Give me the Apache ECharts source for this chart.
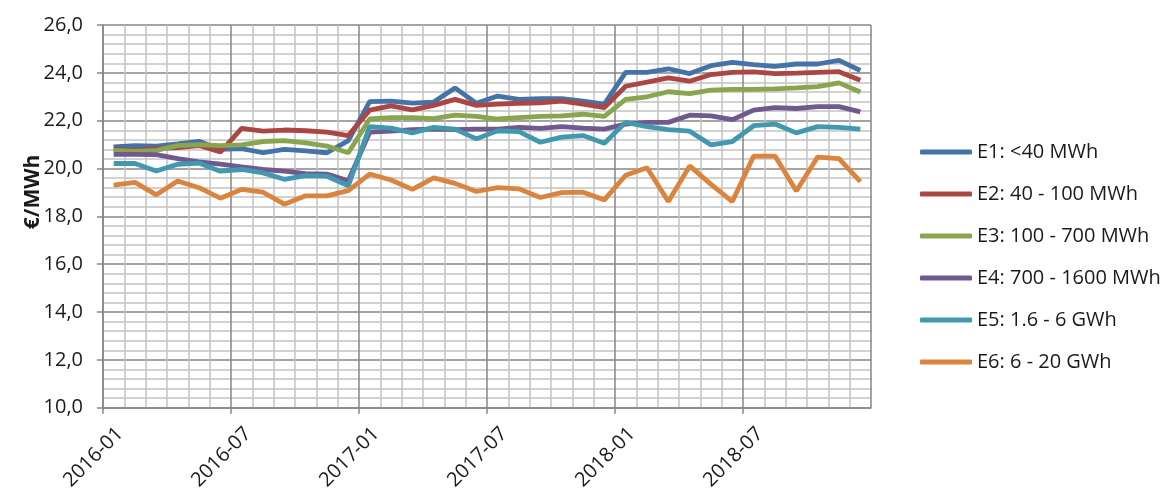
<!DOCTYPE html>
<html>
<head>
<meta charset="utf-8">
<script src="https://cdn.jsdelivr.net/npm/echarts@6/dist/echarts.min.js"></script>
<style>html,body{margin:0;padding:0;background:#fff;}#c{width:1160px;height:493px;}</style>
</head>
<body>
<div id="c"></div>
<script>
const months = ['2016-01','2016-02','2016-03','2016-04','2016-05','2016-06','2016-07','2016-08','2016-09','2016-10','2016-11','2016-12',
'2017-01','2017-02','2017-03','2017-04','2017-05','2017-06','2017-07','2017-08','2017-09','2017-10','2017-11','2017-12',
'2018-01','2018-02','2018-03','2018-04','2018-05','2018-06','2018-07','2018-08','2018-09','2018-10','2018-11','2018-12'];
const xTickLabels = ['2016-01','2016-07','2017-01','2017-07','2018-01','2018-07'];
const seriesNames = ['E1: <40 MWh','E2: 40 - 100 MWh','E3: 100 - 700 MWh','E4: 700 - 1600 MWh','E5: 1.6 - 6 GWh','E6: 6 - 20 GWh'];
const E1 = [20.90,20.96,20.94,21.03,21.14,20.80,20.83,20.66,20.80,20.74,20.66,21.17,22.80,22.82,22.73,22.78,23.37,22.73,23.03,22.89,22.92,22.92,22.82,22.69,24.02,24.02,24.17,23.97,24.30,24.44,24.34,24.27,24.37,24.37,24.52,24.10];
const E2 = [20.80,20.76,20.83,20.87,20.96,20.69,21.68,21.56,21.61,21.58,21.52,21.38,22.44,22.62,22.45,22.64,22.89,22.64,22.69,22.73,22.75,22.82,22.69,22.55,23.44,23.61,23.79,23.65,23.93,24.02,24.04,23.97,23.99,24.02,24.05,23.69];
const E3 = [20.76,20.72,20.76,20.96,21.00,20.96,20.99,21.13,21.17,21.07,20.94,20.66,22.07,22.13,22.13,22.09,22.23,22.18,22.07,22.13,22.18,22.20,22.27,22.18,22.89,23.00,23.21,23.13,23.28,23.31,23.31,23.33,23.37,23.42,23.58,23.20];
const E4 = [20.59,20.59,20.58,20.41,20.28,20.18,20.07,19.96,19.89,19.79,19.77,19.49,21.52,21.56,21.63,21.65,21.63,21.65,21.65,21.72,21.68,21.75,21.69,21.65,21.86,21.93,21.93,22.23,22.20,22.04,22.44,22.55,22.51,22.59,22.59,22.37];
const E5 = [20.21,20.21,19.90,20.18,20.23,19.89,19.96,19.82,19.55,19.70,19.68,19.28,21.75,21.69,21.49,21.72,21.65,21.24,21.58,21.54,21.10,21.31,21.38,21.06,21.93,21.75,21.63,21.56,20.99,21.13,21.79,21.86,21.49,21.75,21.72,21.65];
const E6 = [19.31,19.42,18.90,19.48,19.20,18.76,19.13,19.01,18.51,18.86,18.86,19.08,19.77,19.52,19.13,19.61,19.38,19.04,19.20,19.15,18.79,18.99,19.01,18.69,19.72,20.03,18.62,20.11,19.34,18.62,20.52,20.52,19.06,20.48,20.41,19.45];
const seriesValues = [E1,E2,E3,E4,E5,E6];
const colors = ['#4572A7','#AA4643','#89A54E','#71588F','#4198AF','#DB843D'];

const FONT = '"Open Sans", sans-serif';
const chart = echarts.init(document.getElementById('c'), null, {renderer:'canvas'});
chart.setOption({
  animation: false,
  backgroundColor: '#fff',
  color: colors,
  grid: {left: 103, right: 289, top: 25, bottom: 81, containLabel: false},
  legend: {
    orient: 'vertical', left: 915, top: 137,
    icon: 'roundRect',
    itemWidth: 52, itemHeight: 5, itemGap: 22,
    textStyle: {fontFamily: FONT, fontSize: 20, color: '#1a1a1a', lineHeight: 20},
    data: seriesNames
  },
  graphic: [{
    type: 'text', x: 33, y: 192, rotation: Math.PI/2,
    style: {text: '€/MWh', font: 'bold 21px ' + FONT, fill: '#1a1a1a', align: 'center', verticalAlign: 'middle'}
  }],
  xAxis: {
    type: 'value', min: 0, max: months.length, interval: 6,
    axisLine: {show: true, lineStyle: {color: '#868686', width: 1.5}},
    axisTick: {show: true, length: 6, lineStyle: {color: '#868686', width: 1.5}},
    minorTick: {show: false, splitNumber: 6},
    splitLine: {show: true, lineStyle: {color: '#868686', width: 1.5}},
    minorSplitLine: {show: true, lineStyle: {color: '#C4C4C4', width: 1.5}},
    axisLabel: {
      rotate: 45, margin: 6, padding: [14, 0, 0, 0], fontFamily: FONT, fontSize: 20, color: '#1a1a1a',
      verticalAlign: 'top', showMaxLabel: false,
      formatter: v => xTickLabels.indexOf(months[v]) >= 0 ? months[v] : ''
    }
  },
  yAxis: {
    type: 'value', min: 10, max: 26, interval: 2,
    axisLine: {show: true, lineStyle: {color: '#868686', width: 1.5}},
    axisTick: {show: true, length: 6, lineStyle: {color: '#868686', width: 1.5}},
    minorTick: {show: false, splitNumber: 5},
    splitLine: {show: true, lineStyle: {color: '#868686', width: 1.5}},
    minorSplitLine: {show: true, lineStyle: {color: '#C4C4C4', width: 1.5}},
    axisLabel: {
      margin: 20, fontFamily: FONT, fontSize: 20, color: '#1a1a1a',
      formatter: v => v.toFixed(1).replace('.', ',')
    }
  },
  series: seriesValues.map((vals, k) => ({
    name: seriesNames[k], type: 'line', symbol: 'none', smooth: false,
    lineStyle: {width: 4.8, color: colors[k]},
    itemStyle: {color: colors[k]},
    data: vals.map((v, i) => [i + 0.5, v])
  }))
});
</script>
</body>
</html>
